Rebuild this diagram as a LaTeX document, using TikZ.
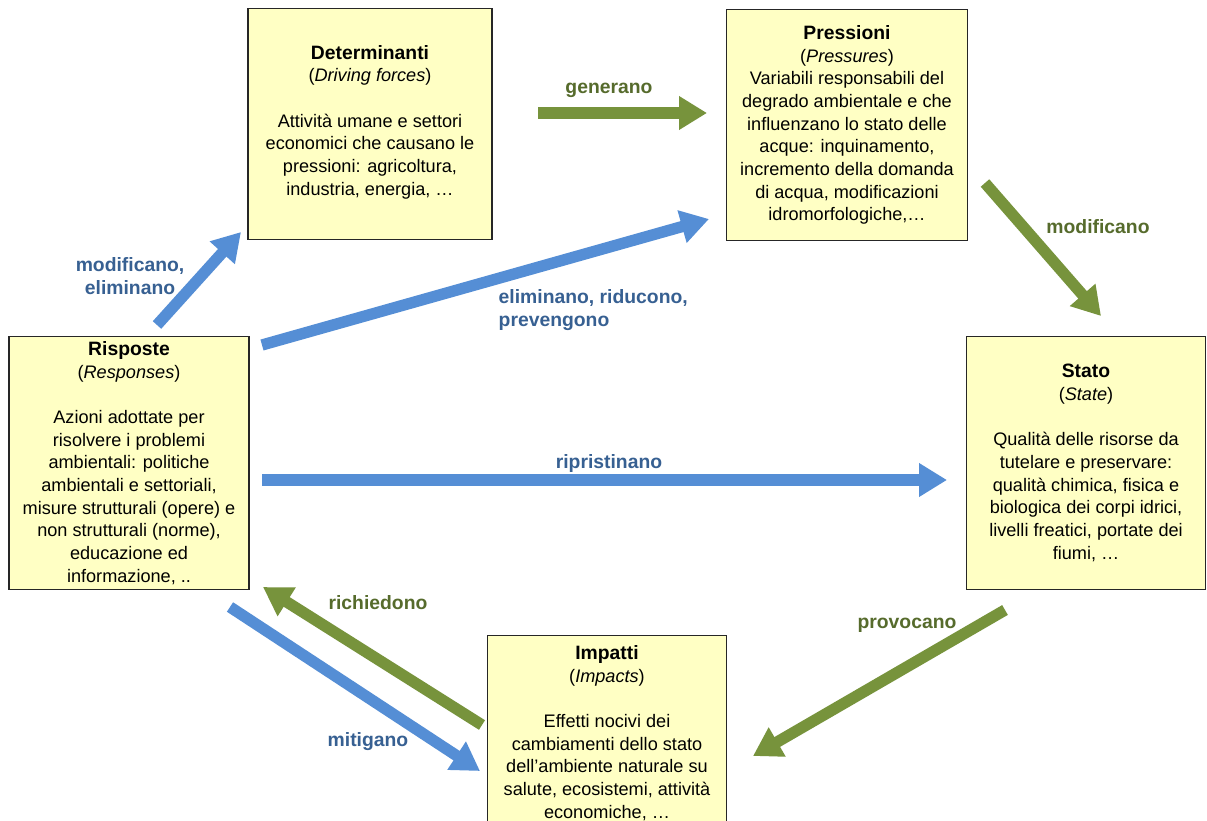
\documentclass[tikz,border=0pt]{standalone}
\usepackage{fontspec}
\setmainfont{Liberation Sans}
\usetikzlibrary{arrows.meta}

\definecolor{giallino}{HTML}{FFFFC4}
\definecolor{verdefreccia}{HTML}{77933C}
\definecolor{verdetesto}{HTML}{566B2C}
\definecolor{blufreccia}{HTML}{558ED5}
\definecolor{blutesto}{HTML}{376092}

\newcommand{\titolo}[1]{{\fontsize{14.5}{18}\selectfont\bfseries #1}}

\tikzset{
  fattore/.style={draw=black!85, line width=0.9pt, fill=giallino, align=center,
    inner sep=2pt, font=\fontsize{13.6}{17}\selectfont},
  freccia/.style={line width=8.5pt, -{Triangle[width=24pt,length=21pt]}},
  verde/.style={freccia, color=verdefreccia},
  blu/.style={freccia, color=blufreccia},
  etichetta/.style={font=\fontsize{14.5}{17.5}\selectfont\bfseries, align=center}
}

\begin{document}
\begin{tikzpicture}[x=0.75pt, y=-0.75pt]

\clip (0,0) rectangle (1207,821);
\fill[white] (0,0) rectangle (1207,821);

% Determinanti (top left)
\node[fattore, minimum width=183pt, minimum height=173pt] (det) at (370,124) {
\titolo{Determinanti}\\
(\textit{Driving forces})\\[17pt]
Attività umane e settori\\
economici che causano le\\
pressioni: agricoltura,\\
industria, energia, \dots\\[-11pt]
};

% Pressioni (top right)
\node[fattore, minimum width=181pt, minimum height=173pt] (pre) at (847,125) {
\titolo{Pressioni}\\
(\textit{Pressures})\\
Variabili responsabili del\\
degrado ambientale e che\\
influenzano lo stato delle\\
acque: inquinamento,\\
incremento della domanda\\
di acqua, modificazioni\\
idromorfologiche,\dots
};

% Risposte (left)
\node[fattore, minimum width=180pt, minimum height=190pt] (ris) at (129,463) {
\titolo{Risposte}\\
(\textit{Responses})\\[17pt]
Azioni adottate per\\
risolvere i problemi\\
ambientali: politiche\\
ambientali e settoriali,\\
misure strutturali (opere) e\\
non strutturali (norme),\\
educazione ed\\
informazione, ..
};

% Stato (right)
\node[fattore, minimum width=179pt, minimum height=190pt] (sta) at (1086,463) {
\titolo{Stato}\\
(\textit{State})\\[17pt]
Qualità delle risorse da\\
tutelare e preservare:\\
qualità chimica, fisica e\\
biologica dei corpi idrici,\\
livelli freatici, portate dei\\
fiumi, \dots
};

% Impatti (bottom)
\node[fattore, minimum width=179pt, minimum height=146pt] (imp) at (607,733) {
\titolo{Impatti}\\
(\textit{Impacts})\\[17pt]
Effetti nocivi dei\\
cambiamenti dello stato\\
dell’ambiente naturale su\\
salute, ecosistemi, attività\\
economiche, \dots
};

% arrow ends
\coordinate (gen-a) at (538,113);
\coordinate (gen-b) at (707,113);
\coordinate (mod-a) at (985,183);
\coordinate (mod-b) at (1101,316);
\coordinate (pro-a) at (1005,610);
\coordinate (pro-b) at (753,756);
\coordinate (ric-a) at (482,725);
\coordinate (ric-b) at (263,587);
\coordinate (mit-a) at (230,607);
\coordinate (mit-b) at (480,771);
\coordinate (rip-a) at (262,480);
\coordinate (rip-b) at (947,480);
\coordinate (eli-a) at (262,345);
\coordinate (eli-b) at (709,219);
\coordinate (mde-a) at (157,325);
\coordinate (mde-b) at (241,232);

% green arrows
\draw[verde] (gen-a) -- (gen-b);
\draw[verde] (mod-a) -- (mod-b);
\draw[verde] (pro-a) -- (pro-b);
\draw[verde] (ric-a) -- (ric-b);

% blue arrows
\draw[blu] (mit-a) -- (mit-b);
\draw[blu] (rip-a) -- (rip-b);
\draw[blu] (eli-a) -- (eli-b);
\draw[blu] (mde-a) -- (mde-b);

% labels
\node[etichetta, text=verdetesto] (l-gen) at (609,90) {generano};
\node[etichetta, text=verdetesto] (l-mod) at (1098,227) {modificano};
\node[etichetta, text=verdetesto] (l-pro) at (907,625) {provocano};
\node[etichetta, text=verdetesto] (l-ric) at (378,603) {richiedono};
\node[etichetta, text=blutesto] (l-mit) at (368,742) {mitigano};
\node[etichetta, text=blutesto] (l-rip) at (609,463) {ripristinano};
\node[etichetta, text=blutesto, align=left, anchor=west] (l-eli) at (494,310) {eliminano, riducono,\\prevengono};
\node[etichetta, text=blutesto] (l-mde) at (130,276) {modificano,\\eliminano};

\end{tikzpicture}
\end{document}
